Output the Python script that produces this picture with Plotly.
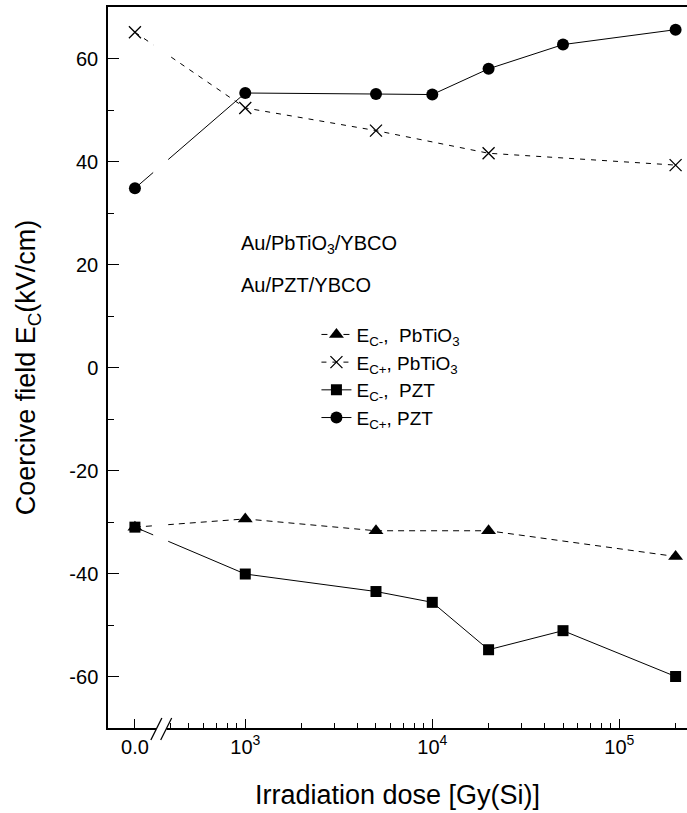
import numpy as np
import plotly.graph_objects as go

# ---------------- data ----------------
dose_pbtio3 = [0, 1e3, 5e3, 2e4, 2e5]
ec_minus_pbtio3 = [-31.0, -29.4, -31.7, -31.7, -36.7]
ec_plus_pbtio3 = [65.1, 50.4, 46.0, 41.6, 39.3]

dose_pzt = [0, 1e3, 5e3, 1e4, 2e4, 5e4, 2e5]
ec_minus_pzt = [-31.0, -40.1, -43.5, -45.6, -54.8, -51.1, -60.0]
ec_plus_pzt = [34.8, 53.3, 53.1, 53.0, 58.0, 62.7, 65.6]

series_names = [
    "E<sub>C-</sub>,  PbTiO<sub>3</sub>",
    "E<sub>C+</sub>, PbTiO<sub>3</sub>",
    "E<sub>C-</sub>,  PZT",
    "E<sub>C+</sub>, PZT",
]

major_tick_doses = [0, 1e3, 1e4, 1e5]
major_tick_labels = ["0.0", "10<sup>3</sup>", "10<sup>4</sup>", "10<sup>5</sup>"]
minor_tick_doses = ([m * 1e2 for m in range(4, 10)] + [m * 1e3 for m in range(2, 10)]
                    + [m * 1e4 for m in range(2, 10)] + [2e5])
y_tick_values = [-60, -40, -20, 0, 20, 40, 60]
y_tick_labels = ["-60", "-40", "-20", "0", "20", "40", "60"]

# --------------- broken axis scale (linear axis in decades) ---------------
ZERO_POS = 2.41  # position of dose 0 left of the axis break (in decades)


def xpos(d):
    return float(np.log10(d)) if d > 0 else ZERO_POS


def xs(doses):
    return [xpos(d) for d in doses]


FONT = "Liberation Sans, Arial, sans-serif"
BLACK = "#000000"

fig = go.Figure()

fig.add_trace(go.Scatter(
    x=xs(dose_pbtio3), y=ec_minus_pbtio3, name=series_names[0], mode="lines+markers",
    line=dict(color=BLACK, width=1, dash="6px,5px"),
    marker=dict(symbol="triangle-up", size=13, color=BLACK),
))
fig.add_trace(go.Scatter(
    x=xs(dose_pbtio3), y=ec_plus_pbtio3, name=series_names[1], mode="lines+markers",
    line=dict(color=BLACK, width=1, dash="5px,6px"),
    marker=dict(symbol="x-thin", size=12, color=BLACK, line=dict(color=BLACK, width=1.3)),
))
fig.add_trace(go.Scatter(
    x=xs(dose_pzt), y=ec_minus_pzt, name=series_names[2], mode="lines+markers",
    line=dict(color=BLACK, width=1),
    marker=dict(symbol="square", size=11, color=BLACK),
))
fig.add_trace(go.Scatter(
    x=xs(dose_pzt), y=ec_plus_pzt, name=series_names[3], mode="lines+markers",
    line=dict(color=BLACK, width=1),
    marker=dict(symbol="circle", size=12, color=BLACK),
))

fig.update_layout(
    width=687, height=813,
    margin=dict(l=108, r=0, t=7, b=85),
    paper_bgcolor="white", plot_bgcolor="white",
    font=dict(family=FONT, color=BLACK, size=20),
    showlegend=True,
    legend=dict(
        x=0.36, y=0.572, xanchor="left", yanchor="top",
        bgcolor="rgba(0,0,0,0)", borderwidth=0,
        font=dict(family=FONT, size=19, color=BLACK),
        tracegroupgap=0, itemwidth=30,
    ),
    xaxis=dict(
        range=[2.266, 5.362],
        showgrid=False, zeroline=False,
        showline=True, linecolor=BLACK, linewidth=1.5, mirror=True,
        tickmode="array",
        tickvals=xs(major_tick_doses), ticktext=major_tick_labels,
        ticks="inside", ticklen=9, tickwidth=1.2, tickcolor=BLACK,
        tickfont=dict(family=FONT, size=20),
        minor=dict(tickmode="array", tickvals=xs(minor_tick_doses),
                   ticks="inside", ticklen=5, tickwidth=1, tickcolor=BLACK, showgrid=False),
        title=dict(text="Irradiation dose [Gy(Si)]", font=dict(family=FONT, size=27), standoff=28),
    ),
    yaxis=dict(
        range=[-70, 70],
        showgrid=False, zeroline=False,
        showline=True, linecolor=BLACK, linewidth=1.5, mirror=False,
        tickmode="array", tickvals=y_tick_values, ticktext=y_tick_labels,
        ticks="inside", ticklen=11, tickwidth=1.2, tickcolor=BLACK,
        tickfont=dict(family=FONT, size=20), ticklabelstandoff=4,
        minor=dict(dtick=10, tick0=0, ticks="inside", ticklen=6, tickwidth=1,
                   tickcolor=BLACK, showgrid=False),
        title=dict(text="Coercive field E<sub>C</sub>(kV/cm)", font=dict(family=FONT, size=27),
                   standoff=26),
    ),
    annotations=[
        dict(text="Au/PbTiO<sub>3</sub>/YBCO", x=0.226, y=0.670, xref="paper", yref="paper",
             xanchor="left", yanchor="middle", showarrow=False, font=dict(family=FONT, size=20)),
        dict(text="Au/PZT/YBCO", x=0.226, y=0.614, xref="paper", yref="paper",
             xanchor="left", yanchor="middle", showarrow=False, font=dict(family=FONT, size=20)),
    ],
    shapes=[
        # data lines are interrupted at the axis break
        dict(type="rect", xref="paper", yref="paper", x0=0.078, x1=0.104, y0=0.004, y1=0.994,
             fillcolor="white", line=dict(width=0), layer="above"),
        # gap in the axis line at the break
        dict(type="line", xref="paper", yref="paper", x0=0.083, x1=0.101, y0=0, y1=0,
             line=dict(color="white", width=4), layer="above"),
        # break marks //
        dict(type="line", xref="paper", yref="paper", x0=0.074, x1=0.093, y0=-0.0166, y1=0.0139,
             line=dict(color=BLACK, width=1.3), layer="above"),
        dict(type="line", xref="paper", yref="paper", x0=0.091, x1=0.110, y0=-0.0166, y1=0.0139,
             line=dict(color=BLACK, width=1.3), layer="above"),
    ],
)

fig.write_html(
    "out.html",
    config={"displayModeBar": False},
    post_script="document.body.style.margin='0';document.body.style.overflow='hidden';",
)
